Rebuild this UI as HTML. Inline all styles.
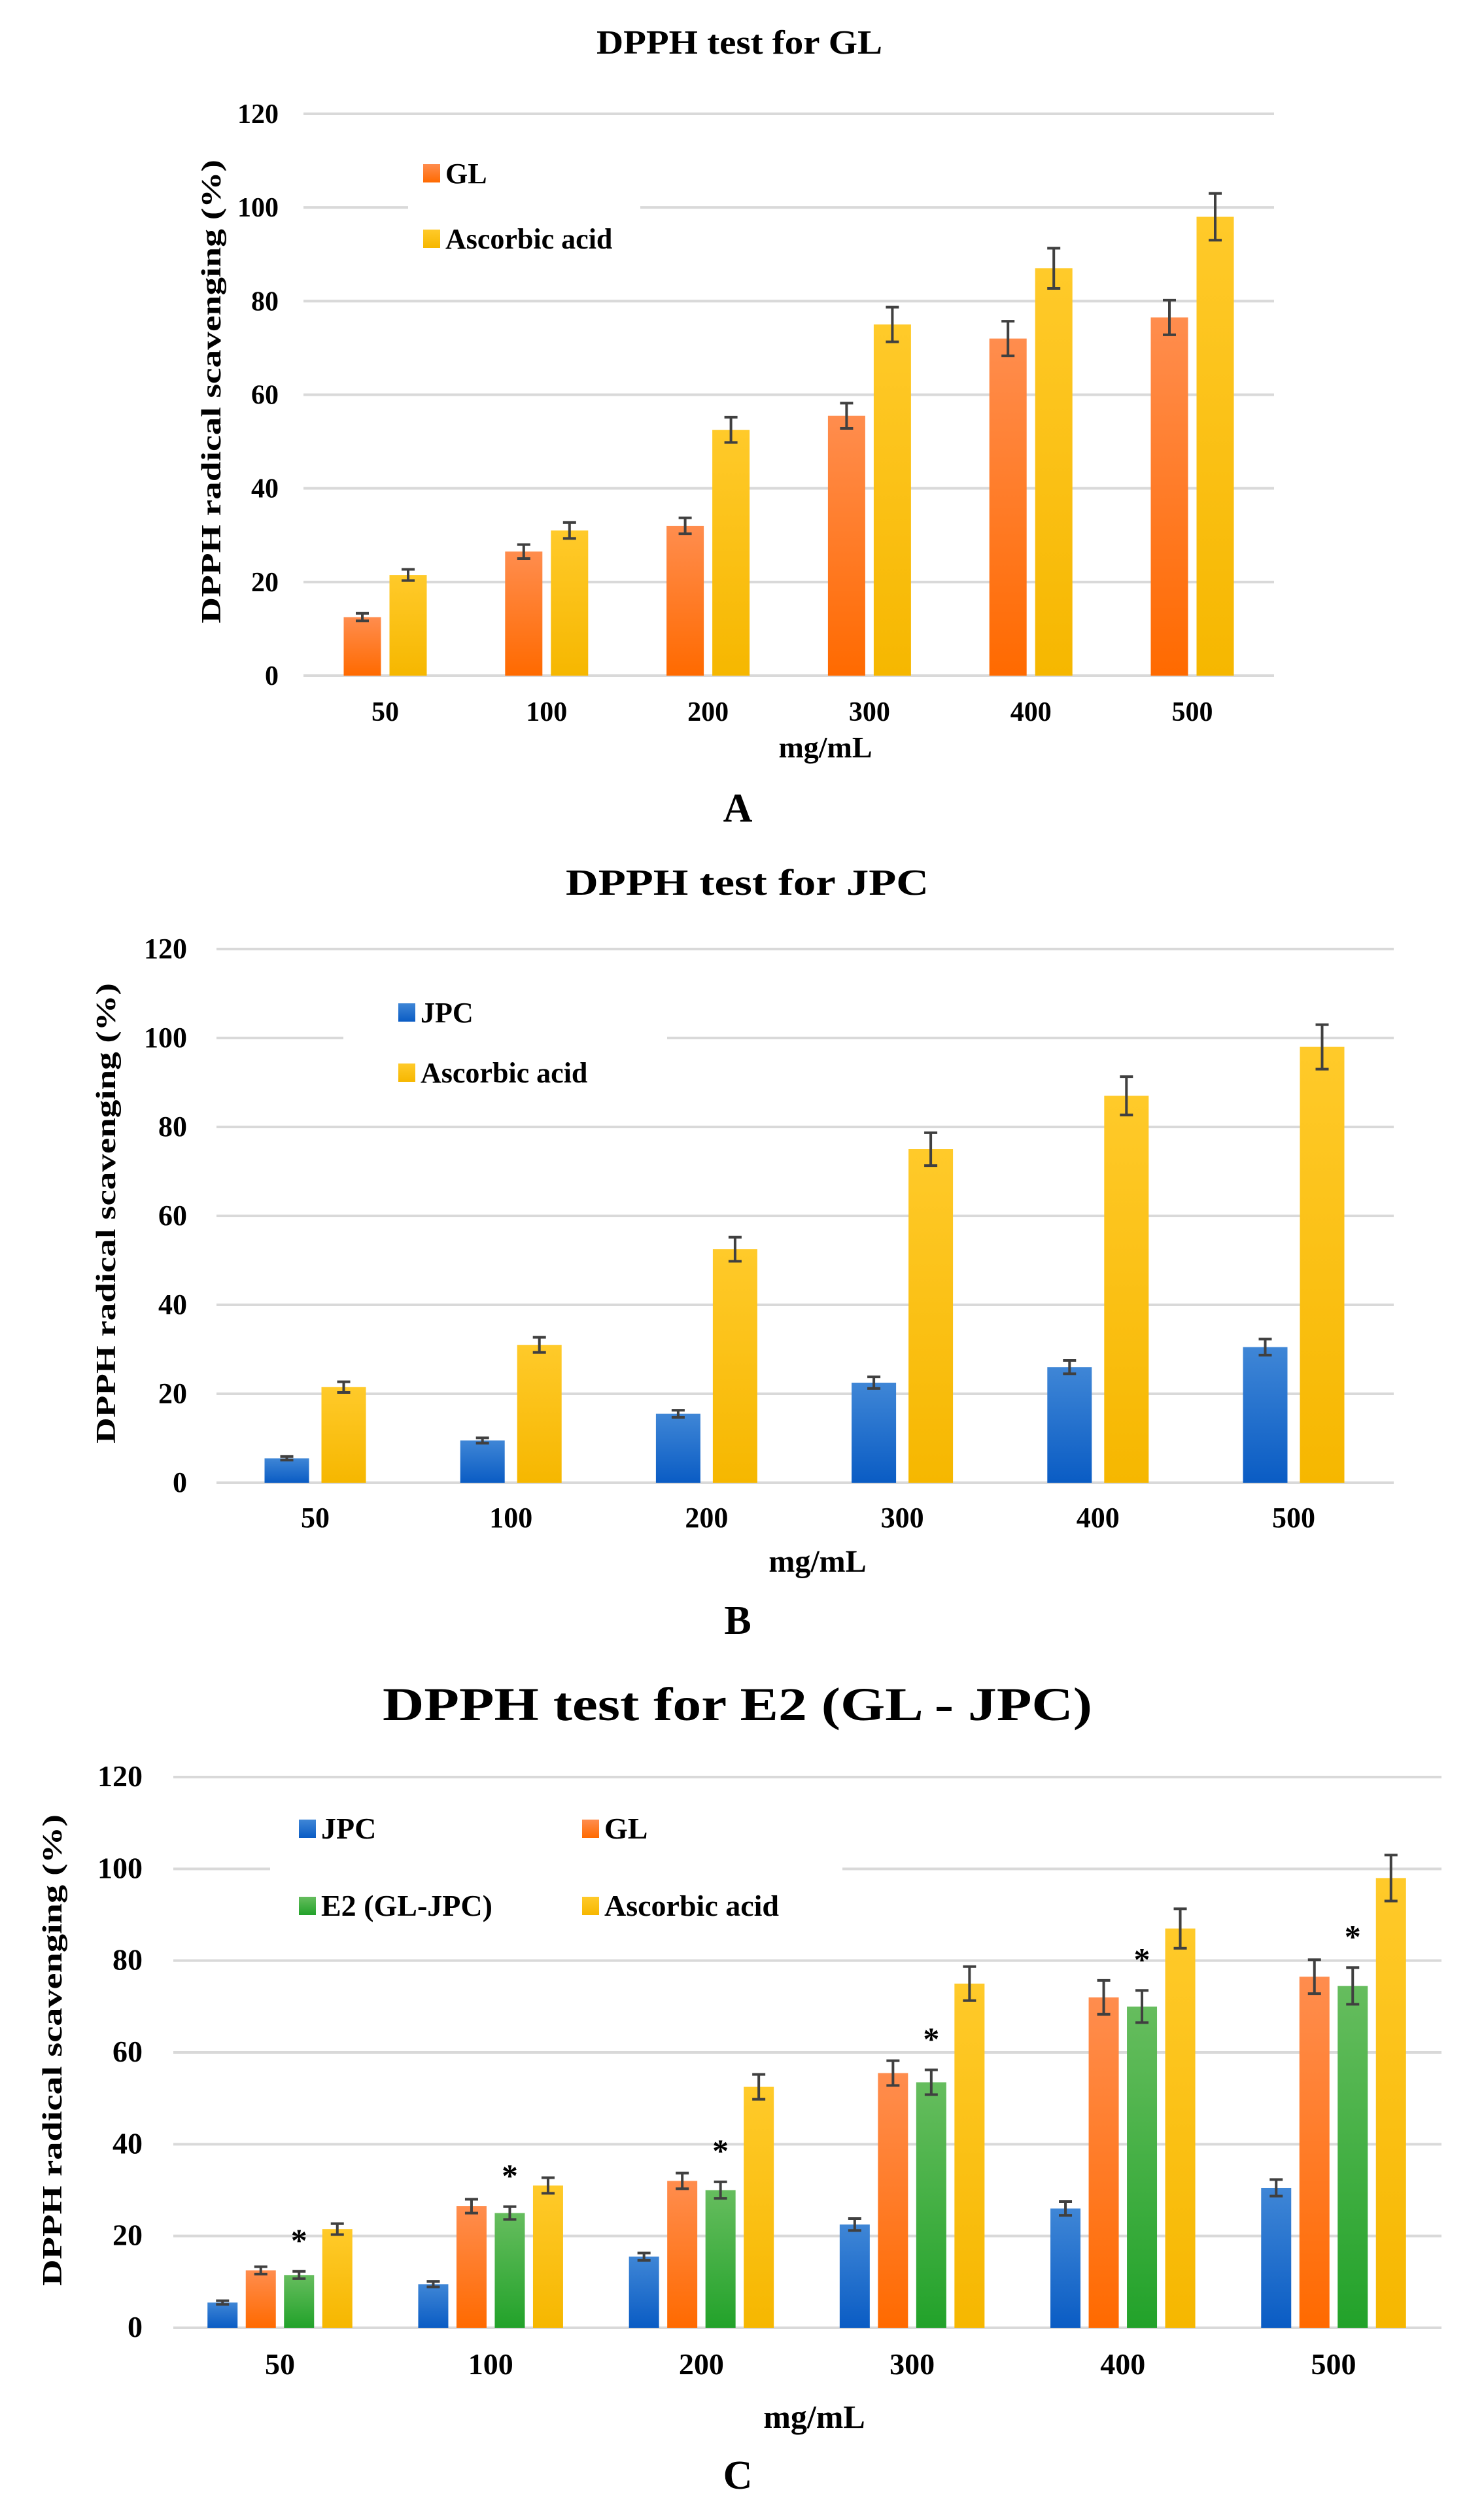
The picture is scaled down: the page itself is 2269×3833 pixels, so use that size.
<!DOCTYPE html>
<html><head><meta charset="utf-8"><style>
html,body{margin:0;padding:0;background:#fff}
svg{display:block}
text{font-family:"Liberation Serif",serif;font-weight:bold;fill:#000}
</style></head><body>
<svg id="fig" width="2269" height="3833" viewBox="0 0 2269 3833" xmlns="http://www.w3.org/2000/svg">
<defs>
<linearGradient id="gOr" x1="0" y1="0" x2="0" y2="1"><stop offset="0" stop-color="#ff8d4e"/><stop offset="1" stop-color="#ff6a00"/></linearGradient>
<linearGradient id="gYe" x1="0" y1="0" x2="0" y2="1"><stop offset="0" stop-color="#ffca2a"/><stop offset="1" stop-color="#f6b700"/></linearGradient>
<linearGradient id="gBl" x1="0" y1="0" x2="0" y2="1"><stop offset="0" stop-color="#3f86d6"/><stop offset="1" stop-color="#0a5cc4"/></linearGradient>
<linearGradient id="gGr" x1="0" y1="0" x2="0" y2="1"><stop offset="0" stop-color="#66bd5e"/><stop offset="1" stop-color="#22a22a"/></linearGradient>
</defs>
</svg>
<script>
const categories = ["50","100","200","300","400","500"];
const yTicks = [0,20,40,60,80,100,120];
const glValues = [12.5,26.5,32,55.5,72,76.5];
const glErrors = [0.8,1.5,1.7,2.7,3.7,3.7];
const aaValues = [21.5,31,52.5,75,87,98];
const aaErrors = [1.2,1.7,2.7,3.7,4.3,5];
const jpcValues = [5.5,9.5,15.5,22.5,26,30.5];
const jpcErrors = [0.4,0.6,0.8,1.3,1.5,1.8];
const e2Values = [11.5,25,30,53.5,70,74.5];
const e2Errors = [0.8,1.4,1.8,2.7,3.5,4];
const sigMarks = ["*","*","*","*","*","*"];

const NS="http://www.w3.org/2000/svg";
const svg=document.getElementById('fig');
function mk(tag,attrs,parent){const e=document.createElementNS(NS,tag);for(const k in attrs)e.setAttribute(k,attrs[k]);(parent||svg).appendChild(e);return e;}

function drawChart(c){
  const g=mk('g',{});
  
  
  const yScale=v=>c.y0+(c.y120-c.y0)*v/120;
  const xCenter=i=>c.c0+(c.c5-c.c0)*i/5;
  yTicks.forEach(t=>{
    const y=yScale(t);
    const ln=mk('line',{x1:c.gx0,x2:c.gx1,y1:y,y2:y,stroke:'#d9d9d9','stroke-width':4},g);
    
    
    const tx=mk('text',{x:c.tickX,y:y+14,'text-anchor':'end','font-size':c.tickFs},g);
    tx.textContent=t;
    
    
  });
  const lb=mk('rect',{x:c.legBox[0],y:c.legBox[1],width:c.legBox[2],height:c.legBox[3],fill:'#fff'},g);
  
  
  const n=c.series.length;
  categories.forEach((cat,i)=>{
    const cx=xCenter(i);
    const total=n*c.bw+(n-1)*c.gap;
    c.series.forEach((s,j)=>{
      const x=cx-total/2+j*(c.bw+c.gap);
      const v=s.values[i], e=s.errors[i];
      const yt=yScale(v);
      const r=mk('rect',{x:x,y:yt,width:c.bw,height:yScale(0)-yt,fill:s.fill},g);
      
      
      const mx=x+c.bw/2, ya=yScale(v+e), yb=yScale(v-e);
      const eb=mk('path',{d:`M${mx} ${ya}V${yb}M${mx-10} ${ya}H${mx+10}M${mx-10} ${yb}H${mx+10}`,stroke:'#404040','stroke-width':4,fill:'none'},g);
      
      
      if(s.sig){
        const st=mk('text',{x:mx,y:yScale(v+e+7.5)+22,'text-anchor':'middle','font-size':50},g);
        st.textContent=sigMarks[i];
        
        
      }
    });
    const xl=mk('text',{x:cx,y:c.xLabY,'text-anchor':'middle','font-size':c.tickFs},g);
    xl.textContent=cat;
    
    
  });
  c.series.forEach((s,j)=>{
    const p=c.legPos[j];
    const sq=mk('rect',{x:p[0],y:p[1]-14,width:26,height:28,fill:s.fill},g);
    
    
    const lt=mk('text',{x:p[0]+34,y:p[1]+15,'font-size':c.legFs},g);
    lt.textContent=s.label;
    
    
  });
  const t=mk('text',{x:c.title[0],y:c.title[1],'font-size':c.titleFs,textLength:c.title[2],lengthAdjust:'spacingAndGlyphs'},g);
  t.textContent=c.titleText;
  
  
  const yc=(c.yt[1]+c.yt[2])/2;
  const yt=mk('text',{x:c.yt[0],y:yc,'font-size':42,'text-anchor':'middle',transform:`rotate(-90 ${c.yt[0]} ${yc})`,textLength:c.yt[2]-c.yt[1],lengthAdjust:'spacingAndGlyphs'},g);
  yt.textContent='DPPH radical scavenging (%)';
  
  
  const xt=mk('text',{x:c.xt[0],y:c.xt[1],'font-size':c.tickFs+4,'text-anchor':'middle'},g);
  xt.textContent='mg/mL';
  
  
  const pl=mk('text',{x:c.pl[0],y:c.pl[1],'font-size':62,'text-anchor':'middle'},g);
  pl.textContent=c.panel;
  
  
}

drawChart({id:'chart-a-gl',gx0:464,gx1:1948,y0:1033,y120:174,c0:589,c5:1823,bw:57,gap:13,tickX:426,tickFs:42,xLabY:1102,
  legBox:[624,215,355,190],legPos:[[647,265],[647,365]],legFs:44,
  series:[{key:'gl',label:'GL',values:glValues,errors:glErrors,fill:'url(#gOr)'},
          {key:'ascorbic',label:'Ascorbic acid',values:aaValues,errors:aaErrors,fill:'url(#gYe)'}],
  titleText:'DPPH test for GL',title:[912,82,437],titleFs:52,yt:[337,244,953],xt:[1262,1158],pl:[1128,1256],panel:'A'});

drawChart({id:'chart-b-jpc',gx0:331,gx1:2131,y0:2267,y120:1451,c0:482,c5:1978,bw:68,gap:19,tickX:286,tickFs:44,xLabY:2335,
  legBox:[525,1500,495,190],legPos:[[609,1548],[609,1640]],legFs:44,
  series:[{key:'jpc',label:'JPC',values:jpcValues,errors:jpcErrors,fill:'url(#gBl)'},
          {key:'ascorbic',label:'Ascorbic acid',values:aaValues,errors:aaErrors,fill:'url(#gYe)'}],
  titleText:'DPPH test for JPC',title:[865,1368,555],titleFs:56,yt:[176,1503,2207],xt:[1250,2403],pl:[1128,2498],panel:'B'});

drawChart({id:'chart-c-e2',gx0:265,gx1:2204,y0:3559,y120:2717,c0:428,c5:2039,bw:46,gap:12.5,tickX:218,tickFs:46,xLabY:3630,
  legBox:[413,2755,875,230],legPos:[[457,2796],[890,2796],[457,2914],[890,2914]],legFs:46,
  series:[{key:'jpc',label:'JPC',values:jpcValues,errors:jpcErrors,fill:'url(#gBl)'},
          {key:'gl',label:'GL',values:glValues,errors:glErrors,fill:'url(#gOr)'},
          {key:'e2',label:'E2 (GL-JPC)',values:e2Values,errors:e2Errors,fill:'url(#gGr)',sig:true},
          {key:'ascorbic',label:'Ascorbic acid',values:aaValues,errors:aaErrors,fill:'url(#gYe)'}],
  titleText:'DPPH test for E2 (GL - JPC)',title:[585,2630,1085],titleFs:72,yt:[94,2774,3495],xt:[1245,3712],pl:[1128,3805],panel:'C'});
</script>
</body></html>
